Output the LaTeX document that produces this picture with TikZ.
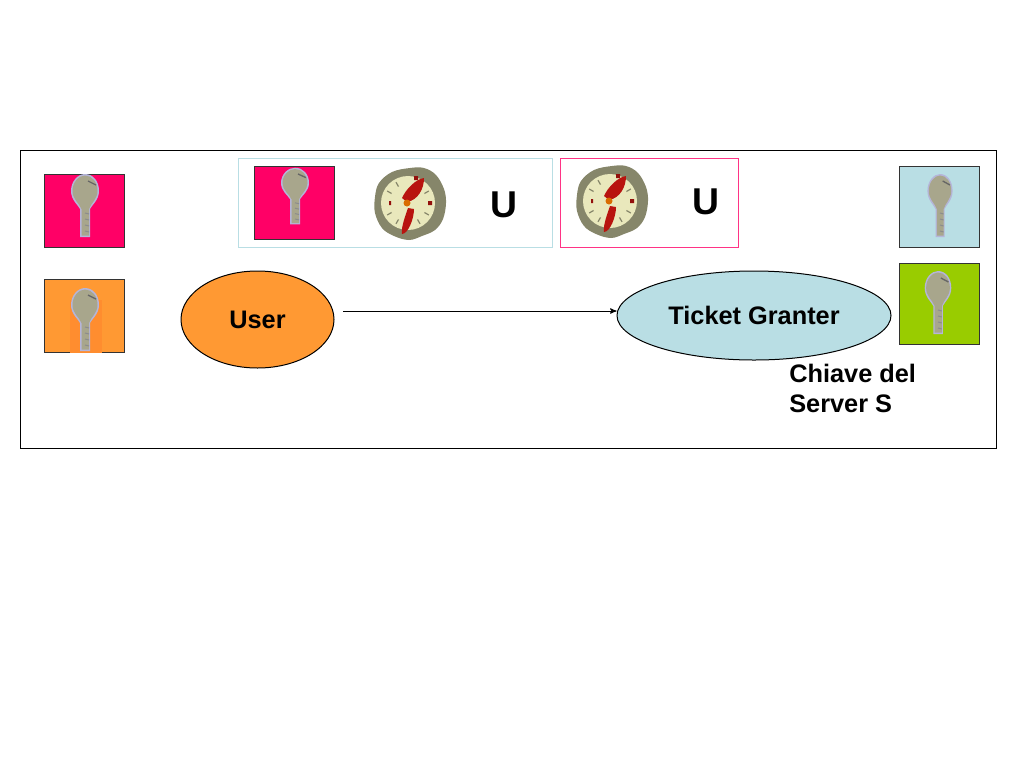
\documentclass[tikz,border=0pt]{standalone}
\usepackage{fontspec}
\setmainfont{Liberation Sans}
\usetikzlibrary{arrows,shapes.geometric}
\definecolor{keypink}{HTML}{FF0066}
\definecolor{keyorange}{HTML}{FF9933}
\definecolor{keyblue}{HTML}{B9DEE4}
\definecolor{keygreen}{HTML}{99CC00}
\definecolor{keygray}{HTML}{A8A68C}
\definecolor{clockrim}{HTML}{86866A}
\definecolor{clockface}{HTML}{E9E8BC}
\definecolor{clockred}{HTML}{B8140F}
\tikzset{
  keysq/.style={draw=black!80,line width=.75pt,minimum width=60pt,minimum height=60.75pt,inner sep=0pt},
  oval/.style={ellipse,draw=black,line width=.75pt,inner sep=0pt,font=\bfseries\fontsize{19}{22}\selectfont},
  bigu/.style={font=\bfseries\fontsize{28}{30}\selectfont,inner sep=0pt},
  keyicon/.pic={
    \fill[white!80!blue!70!gray] (-14,0) .. controls (-14,-10) and (-7,-17) .. (0,-17) .. controls (8,-17) and (14,-10) .. (14,0)
      .. controls (14,9) and (7,14) .. (5,18) -- (5,46) -- (-5,46) -- (-5,18) .. controls (-7,14) and (-14,9) .. (-14,0) -- cycle;
    \fill[keygray] (-12.5,0) .. controls (-12.5,-9) and (-6,-15.5) .. (0,-15.5) .. controls (7,-15.5) and (12.5,-9) .. (12.5,0)
      .. controls (12.5,8) and (6,12) .. (4,18) -- (4,44.5) -- (-3.5,44.5) -- (-3.5,18) .. controls (-6,12) and (-12.5,8) .. (-12.5,0) -- cycle;
    \foreach \yk in {22,28,34,40} \draw[black!45,line width=.75pt] (0,\yk) -- (4,\yk+1);
    \draw[black!60,line width=1pt] (3,-10) -- (11,-6);
  },
  clockicon/.pic={
    \fill[clockrim] plot[smooth cycle,tension=.6] coordinates {(0,-35) (14,-35) (26,-28) (34,-14) (36,0) (33,16) (25,27) (12,33) (-1,37) (-16,33) (-28,25) (-35,10) (-35,-6) (-31,-20) (-18,-31)};
    \fill[clockface] (-2,0) circle (27);
    \fill[clockred] (-8,-5) .. controls (-4,-14) and (6,-24) .. (14,-25) .. controls (14,-14) and (8,-3) .. (-3,-1) -- cycle;
    \fill[clockred] (-2,5) .. controls (-5,14) and (-9,24) .. (-8,31) .. controls (-2,31) and (4,16) .. (4,6) -- cycle;
    \fill[orange!85!black] (-3,0) circle (3.5);
    \fill[clockred!80!black] (4,-27) rectangle (8,-23) (18,-2) rectangle (22,2) (-21,-2) rectangle (-19,2);
    \foreach \tk in {-30,30,60,120,150,210,240} \draw[clockrim,line width=.9pt] ([shift={(-2,0)}]\tk:19) -- ([shift={(-2,0)}]\tk:24);
  }
}
\begin{document}
\begin{tikzpicture}[x=.75pt,y=-.75pt,>=stealth']

\useasboundingbox (0,0) rectangle (1024,768);

\node[draw=black,line width=.75pt,minimum width=732pt,minimum height=223.5pt,inner sep=0pt] (mainbox) at (508,299) {};
\node[draw=keyblue,line width=.75pt,minimum width=235.5pt,minimum height=66.75pt,inner sep=0pt] (ticketbox) at (395,202.5) {};
\node[draw=keypink!80,line width=.75pt,minimum width=133.5pt,minimum height=66.75pt,inner sep=0pt] (authbox) at (649,202.5) {};

\node[keysq,fill=keypink,minimum height=54.75pt] (keyuser) at (84.5,210.5) {};
\node[keysq,fill=keyorange,minimum height=54.75pt] (keysession) at (84.5,315.5) {};
\node[keysq,fill=keypink,minimum height=54.75pt] (keyticket) at (294.5,202.5) {};
\node[keysq,fill=keyblue] (keytgs) at (939.5,206.5) {};
\node[keysq,fill=keygreen] (keyserver) at (939.5,303.5) {};

\fill[keyorange!92!red] (70,300) rectangle (102,353);

\pic at (85,191) {keyicon};
\pic at (85,305) {keyicon};
\pic[yscale=.9] at (295,183) {keyicon};
\pic[xscale=.9] at (940,191) {keyicon};
\pic[xscale=.95] at (938,288) {keyicon};

\pic at (410,203) {clockicon};
\pic at (612,201) {clockicon};

\node[bigu] (ua) at (504,205) {U};
\node[bigu] (ub) at (706,202) {U};

\node[oval,fill=keyorange,minimum width=114.75pt,minimum height=72.75pt] (user) at (257.5,319.5) {User};
\node[oval,fill=keyblue,minimum width=205.5pt,minimum height=66.75pt] (granter) at (754,315.5) {Ticket Granter};

\coordinate (start) at (343,311);
\draw[->,line width=.75pt] (start) -- (start -| granter.west);

\node[anchor=north west,align=left,inner sep=0pt,font=\bfseries\fontsize{19}{22.5}\selectfont] (serverlabel) at (789,364) {Chiave del\\Server S};

\end{tikzpicture}
\end{document}
